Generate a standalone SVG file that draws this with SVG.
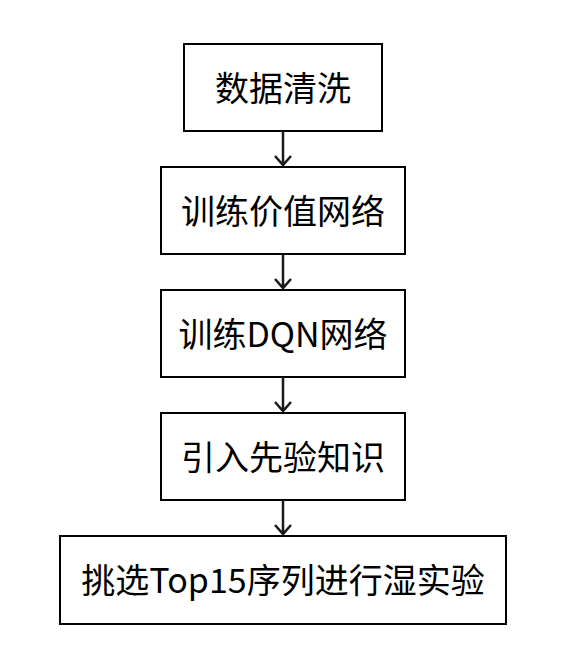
<svg xmlns="http://www.w3.org/2000/svg" width="566" height="663" viewBox="0 0 566 663">
<defs>
<style>
.box{fill:#fff;stroke:#000;stroke-width:2}
.lbl{font-family:"Noto Sans CJK SC","Liberation Sans",sans-serif;font-size:34px;fill:#000;text-anchor:middle;dominant-baseline:central}
.conn{stroke:#1a1a1a;stroke-width:2.5;fill:none}
</style>
</defs>
<rect width="566" height="663" fill="#fff"/>
<g id="n1"><rect class="box" x="184" y="44" width="198" height="87"/><text class="lbl" x="283" y="86">数据清洗</text></g>
<g id="n2"><rect class="box" x="161" y="167" width="244" height="87"/><text class="lbl" x="283" y="209">训练价值网络</text></g>
<g id="n3"><rect class="box" x="161" y="290" width="244" height="87"/><text class="lbl" x="283" y="332">训练DQN网络</text></g>
<g id="n4"><rect class="box" x="161" y="413" width="244" height="87"/><text class="lbl" x="283" y="455">引入先验知识</text></g>
<g id="n5"><rect class="box" x="60" y="536" width="446" height="88"/><text class="lbl" x="283" y="578">挑选Top15序列进行湿实验</text></g>
<g id="connectors">
<path class="conn" d="M283 131V165M275 156L283 165L291 156"/>
<path class="conn" d="M283 254V288M275 279L283 288L291 279"/>
<path class="conn" d="M283 377V411M275 402L283 411L291 402"/>
<path class="conn" d="M283 500V534M275 525L283 534L291 525"/>
</g>
</svg>
